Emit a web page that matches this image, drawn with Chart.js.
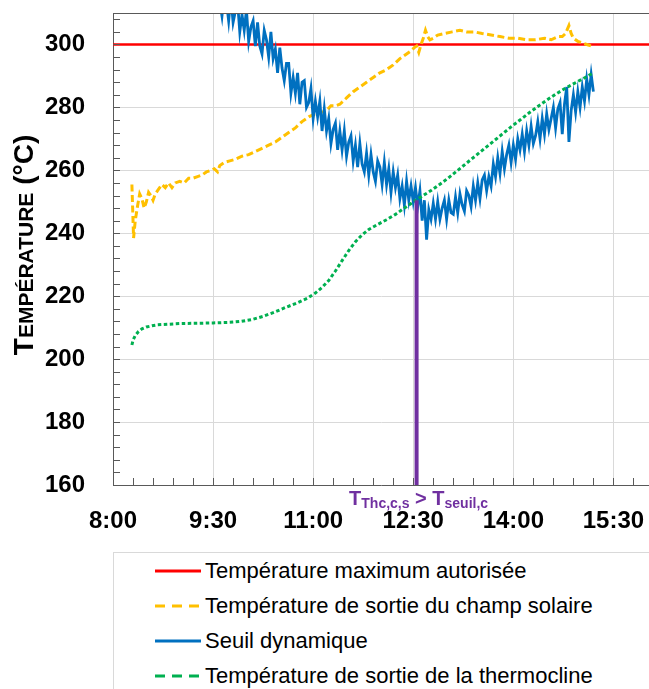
<!DOCTYPE html>
<html lang="fr">
<head>
  <meta charset="UTF-8" />
  <title>Température - seuil dynamique</title>
  <script src="https://cdn.jsdelivr.net/npm/chart.js"></script>
  <style>
    body {
      margin: 0;
      width: 649px;
      height: 689px;
      overflow: hidden;
      background: #fff;
      position: relative;
      font-family: 'Liberation Sans', Arial, sans-serif;
    }

    .chart-box {
      position: absolute;
      left: 0;
      top: 0;
      width: 649px;
      height: 550px;
    }

    .legend {
      position: absolute;
      left: 113px;
      top: 552px;
      width: 600px;
      height: 200px;
      border: 1px solid #d9d9d9;
    }

    .legend .item {
      position: absolute;
      left: 41px;
      height: 35px;
      display: flex;
      align-items: center;
      font-size: 22px;
      color: #000;
      white-space: nowrap;
    }

    .legend svg {
      width: 46px;
      height: 6px;
      margin-right: 4px;
    }
  </style>
</head>
<body>
  <div class="chart-box"><canvas id="tempChart"></canvas></div>
  <div class="legend" id="legend"></div>

  <script>
    // axes (minutes since midnight / °C)
    const timeMin = 480;
    const timeMax = 962;
    const timeStep = 90;
    const timeTickValues = [480, 570, 660, 750, 840, 930];
    const timeTickLabels = ['8:00', '9:30', '11:00', '12:30', '14:00', '15:30'];
    const tempMin = 160;
    const tempMax = 310;
    const tempStep = 20;

    const maxTemp = 300;
    const maxTempTimes = [480, 962];

    const solarTimes = [497, 498.5, 500, 502, 504, 506, 508, 510, 512, 514, 516, 518, 521, 524, 527, 530, 533, 536, 540, 544,
      548, 552, 556, 560, 564, 568, 571, 574, 576, 580, 585, 590, 596, 602, 608, 614, 620, 626, 632, 638,
      644, 650, 656, 662, 668, 672, 676, 680, 684, 690, 696, 702, 708, 714, 720, 726, 732, 738, 744, 748,
      751, 753, 755, 757, 759, 761, 763, 765, 768, 772, 778, 785, 792, 798, 805, 812, 820, 828, 836, 844,
      852, 860, 868, 874, 880, 884, 887, 890, 892, 894, 898, 902, 906, 910, 912];
    const solarTemps = [255.5, 238.5, 244, 248.5, 252.5, 251, 248, 250, 253, 252, 250.5, 252.5, 254, 255.5, 254.5, 256, 254.5, 256, 256.5, 256,
      257.5, 257.5, 258, 258.5, 259.5, 260, 260.5, 259.5, 261.5, 262.5, 263, 263.5, 264.5, 265, 266, 267, 268, 269, 270.5, 272,
      273.5, 275.5, 277, 278, 278.5, 279, 280.5, 280.5, 281, 283, 285, 286.5, 288, 289.5, 291, 292, 293.5, 295.5, 297, 298,
      299, 299.5, 297.5, 300, 302, 304.5, 302.5, 301.5, 302, 303, 303.5, 304, 304.5, 304, 304, 303.5, 303, 302.5, 302, 302,
      301.5, 301.5, 302, 301.5, 302.5, 302.5, 303.5, 306, 303.5, 302, 301, 300.5, 300, 299.5, 300];

    const seuilTimes = [570, 572, 574, 576, 578, 580, 582, 584, 586, 588,
      590, 592, 594, 596, 598, 600, 602, 604, 606, 608,
      610, 612, 614, 616, 618, 620, 622, 624, 626, 628,
      630, 632, 634, 636, 638, 640, 642, 644, 646, 648,
      650, 652, 654, 656, 658, 660, 662, 664, 666, 668,
      670, 672, 674, 676, 678, 680, 682, 684, 686, 688,
      690, 692, 694, 696, 698, 700, 702, 704, 706, 708,
      710, 712, 714, 716, 718, 720, 722, 724, 726, 728,
      730, 732, 734, 736, 738, 740, 742, 744, 746, 748,
      750, 752, 754, 756, 758, 760, 762, 764, 766, 768,
      770, 772, 774, 776, 778, 780, 782, 784, 786, 788,
      790, 792, 794, 796, 798, 800, 802, 804, 806, 808,
      810, 812, 814, 816, 818, 820, 822, 824, 826, 828,
      830, 832, 834, 836, 838, 840, 842, 844, 846, 848,
      850, 852, 854, 856, 858, 860, 862, 864, 866, 868,
      870, 872, 874, 876, 878, 880, 882, 884, 886, 888,
      890, 892, 894, 896, 898, 900, 902, 904, 906, 908, 910, 912];
    const seuilTemps = [319, 312, 320, 313.5, 309, 316, 313.5, 307.5, 315, 307,
      310.5, 313.5, 304, 309.5, 304.5, 311, 301, 305.5, 307.5, 299.5,
      307, 299.5, 297, 304.5, 301.5, 296, 304, 295.5, 298.5, 291,
      299, 292.5, 288.5, 294, 294, 284.5, 289.5, 284.5, 291, 281,
      288, 288.5, 280, 281.5, 286, 276.5, 282, 277, 282, 272.5,
      279.5, 272.5, 276.5, 268.5, 273, 275, 266.5, 272.5, 266.5, 272.5,
      264.5, 269, 271, 263, 268, 261, 268.5, 262, 259.5, 265.5,
      258.5, 265, 259.5, 256.5, 263, 261, 255.5, 262.5, 255.5, 260.5,
      253, 259.5, 254.5, 258.5, 251, 255, 249, 256.5, 250.5, 255,
      250, 254.5, 248.5, 253.5, 244, 250.5, 238, 247.5, 244.5, 249.5,
      244.5, 250, 244.5, 248, 250.5, 244.5, 250.5, 246.5, 246, 251.5,
      246.5, 252.5, 249, 247, 253.5, 252, 248.5, 255, 250.5, 256,
      251, 257, 258.5, 253.5, 258, 255, 262, 258, 264, 259,
      266, 260.5, 265, 268, 262.5, 268, 263.5, 270, 266.5, 271.5,
      266, 272.5, 268, 274, 268.5, 271, 275.5, 270, 276.5, 271.5,
      278, 273, 276.5, 280, 273.5, 279.5, 281.5, 271.5, 281, 286.5,
      269, 279, 284, 278.5, 285, 280, 286.5, 282, 289, 284, 290.5, 285];

    const thermoTimes = [497, 498, 500, 503, 506, 510, 515, 520, 530, 540, 555, 570, 585, 595, 605, 615, 625, 635, 645, 655,
      662, 668, 674, 680, 686, 692, 698, 704, 710, 718, 726, 734, 742, 750, 758, 766, 774, 782, 790, 798,
      806, 814, 822, 830, 838, 846, 854, 862, 870, 878, 886, 894, 902, 908, 912];
    const thermoTemps = [204.5, 206, 207.5, 208.8, 209.6, 210.2, 210.6, 210.9, 211.1, 211.3, 211.4, 211.5, 211.7, 212, 212.6, 213.6, 214.9, 216.4, 217.8, 219.4,
      221, 222.8, 225, 228, 231.3, 234.5, 237.3, 239.5, 241.2, 242.8, 244.3, 246, 248, 249.9, 251.8, 253.6, 255.6, 257.7, 260, 262.3,
      264.6, 266.9, 269.2, 271.5, 273.8, 276, 278.2, 280.3, 282.3, 284.2, 285.9, 287.5, 289, 290.2, 291];

    // moment où T_Thc,c,s dépasse T_seuil,c
    const crossTime = 753;
    const crossTemps = [160, 250.5];

    const pts = (xs, ys) => xs.map((x, i) => ({ x: x, y: ys[i] }));
    const axisColor = '#595959';

    const extras = {
      id: 'extras',
      afterDraw(chart) {
        const ctx = chart.ctx;
        const a = chart.chartArea;
        const xs = chart.scales.x;
        const ys = chart.scales.y;
        ctx.save();

        // cadre haut + petites graduations vers l'intérieur
        ctx.strokeStyle = axisColor;
        ctx.lineWidth = 1;
        ctx.beginPath();
        ctx.moveTo(a.left, a.top + 0.5);
        ctx.lineTo(a.right, a.top + 0.5);
        for (let v = tempMin; v <= tempMax; v += tempStep / 5) {
          const y = Math.round(ys.getPixelForValue(v)) + 0.5;
          ctx.moveTo(a.left, y);
          ctx.lineTo(a.left + 7, y);
        }
        for (let t = timeMin; t <= timeMax; t += timeStep / 5) {
          const x = Math.round(xs.getPixelForValue(t)) + 0.5;
          ctx.moveTo(x, a.bottom);
          ctx.lineTo(x, a.bottom - 7);
        }
        ctx.stroke();

        // titre de l'axe Y en petites capitales
        ctx.fillStyle = '#000';
        ctx.textBaseline = 'alphabetic';
        ctx.textAlign = 'left';
        ctx.translate(33, (a.top + a.bottom) / 2 - 4);
        ctx.rotate(-Math.PI / 2);
        drawRuns(ctx, [
          ['T', 'bold 28px "Liberation Sans"', 0],
          ['EMPÉRATURE', 'bold 21px "Liberation Sans"', 0],
          [' (°C)', 'bold 28px "Liberation Sans"', 0]
        ], 0, 0);
        ctx.setTransform(1, 0, 0, 1, 0, 0);

        // annotation sous l'axe
        ctx.fillStyle = '#7030a0';
        drawRuns(ctx, [
          ['T', 'bold 20px "Liberation Sans"', 0],
          ['Thc,c,s', 'bold 14px "Liberation Sans"', 3],
          [' > ', 'bold 20px "Liberation Sans"', 0],
          ['T', 'bold 20px "Liberation Sans"', 0],
          ['seuil,c', 'bold 14px "Liberation Sans"', 3]
        ], xs.getPixelForValue(crossTime) + 2, a.bottom + 19.5);
        ctx.restore();
      }
    };

    function drawRuns(ctx, runs, cx, y) {
      let w = 0;
      runs.forEach(r => { ctx.font = r[1]; w += ctx.measureText(r[0]).width; });
      let x = cx - w / 2;
      runs.forEach(r => {
        ctx.font = r[1];
        ctx.fillText(r[0], x, y + r[2]);
        x += ctx.measureText(r[0]).width;
      });
    }

    const chart = new Chart(document.getElementById('tempChart'), {
      type: 'line',
      data: {
        datasets: [
          {
            label: 'Température maximum autorisée',
            data: pts(maxTempTimes, [maxTemp, maxTemp]),
            borderColor: '#ff0000',
            borderWidth: 2.5,
            order: 5
          },
          {
            label: 'Température de sortie du champ solaire',
            data: pts(solarTimes, solarTemps),
            borderColor: '#ffc000',
            borderWidth: 3,
            borderDash: [7, 3.5],
            legendDash: '10 7',
            order: 4
          },
          {
            label: 'Seuil dynamique',
            data: pts(seuilTimes, seuilTemps),
            borderColor: '#0070c0',
            borderWidth: 2.8,
            order: 3
          },
          {
            label: 'Température de sortie de la thermocline',
            data: pts(thermoTimes, thermoTemps),
            borderColor: '#00b050',
            borderWidth: 3,
            borderDash: [3.5, 2.5],
            legendDash: '10 7',
            order: 2
          },
          {
            label: '',
            data: pts([crossTime, crossTime], crossTemps),
            borderColor: '#7030a0',
            borderWidth: 4,
            order: 1
          }
        ]
      },
      options: {
        responsive: true,
        maintainAspectRatio: false,
        animation: false,
        layout: { padding: { top: 13, left: 0, right: 0, bottom: 0 } },
        elements: { point: { radius: 0 }, line: { tension: 0, fill: false } },
        plugins: { legend: { display: false }, tooltip: { enabled: false } },
        scales: {
          x: {
            type: 'linear',
            min: timeMin,
            max: timeMax,
            afterBuildTicks: s => { s.ticks = timeTickValues.map(v => ({ value: v })); },
            afterFit: s => { s.height = 65; s.paddingLeft = 0; s.paddingRight = 0; },
            border: { color: axisColor, width: 1 },
            grid: { color: '#d9d9d9', drawTicks: false },
            ticks: {
              maxRotation: 0,
              autoSkip: false,
              padding: 22,
              color: '#000',
              font: { family: 'Liberation Sans', size: 24, weight: 'bold' },
              callback: (v, i) => timeTickLabels[i]
            }
          },
          y: {
            min: tempMin,
            max: tempMax,
            afterFit: s => { s.width = 113; s.paddingTop = 0; s.paddingBottom = 0; },
            border: { color: axisColor, width: 1 },
            grid: { color: '#d9d9d9', drawTicks: false },
            ticks: {
              stepSize: tempStep,
              includeBounds: false,
              padding: 28,
              color: '#000',
              font: { family: 'Liberation Sans', size: 24, weight: 'bold' }
            }
          }
        }
      },
      plugins: [extras]
    });

    // légende en boîte, une ligne par série
    const legend = document.getElementById('legend');
    chart.data.datasets.filter(d => d.label).forEach((d, i) => {
      const item = document.createElement('div');
      item.className = 'item';
      item.style.top = (35 * i) + 'px';
      const dash = d.legendDash ? ' stroke-dasharray="' + d.legendDash + '"' : '';
      item.innerHTML = '<svg viewBox="0 0 46 6"><line x1="0" y1="3" x2="46" y2="3" stroke="' +
        d.borderColor + '" stroke-width="3"' + dash + '/></svg>';
      item.appendChild(document.createTextNode(d.label));
      legend.appendChild(item);
    });
  </script>
</body>
</html>
